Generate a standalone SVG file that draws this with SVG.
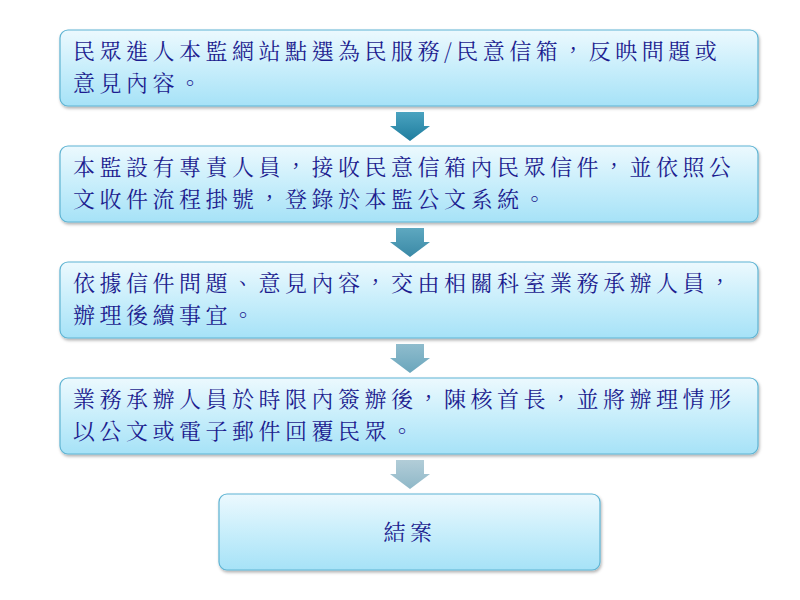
<svg xmlns="http://www.w3.org/2000/svg" width="800" height="600" viewBox="0 0 800 600">
<defs>
<linearGradient id="bg" x1="0" y1="0" x2="0" y2="1"><stop offset="0" stop-color="#ecf9fe"/><stop offset="0.5" stop-color="#c8eefb"/><stop offset="1" stop-color="#a6e2f7"/></linearGradient>
<filter id="sh" x="-5%" y="-10%" width="110%" height="130%"><feDropShadow dx="1" dy="2" stdDeviation="1.5" flood-color="#000" flood-opacity="0.3"/></filter>
<linearGradient id="a1" x1="0" y1="0" x2="0" y2="1"><stop offset="0" stop-color="#4aa3c0"/><stop offset="1" stop-color="#1f7d9e"/></linearGradient>
<linearGradient id="a2" x1="0" y1="0" x2="0" y2="1"><stop offset="0" stop-color="#5ea8c0"/><stop offset="1" stop-color="#3a89a6"/></linearGradient>
<linearGradient id="a3" x1="0" y1="0" x2="0" y2="1"><stop offset="0" stop-color="#8fbccd"/><stop offset="1" stop-color="#6aa6bc"/></linearGradient>
<linearGradient id="a4" x1="0" y1="0" x2="0" y2="1"><stop offset="0" stop-color="#b2cdd8"/><stop offset="1" stop-color="#8fb8c8"/></linearGradient>
</defs>
<style>
.box{fill:url(#bg);stroke:#5fb4d3;stroke-width:1.2;filter:url(#sh)}
.t{font-family:"Noto Serif CJK TC","Noto Sans CJK TC",serif;font-size:22px;fill:#1c1c8f;letter-spacing:4.5px}
</style>
<rect width="800" height="600" fill="#fff"/>
<g id="connectors">
<path d="M396,112h28v14h6l-20,15l-20,-15h6z" fill="url(#a1)"/>
<path d="M396,228h28v14h6l-20,15l-20,-15h6z" fill="url(#a2)"/>
<path d="M396,344h28v14h6l-20,15l-20,-15h6z" fill="url(#a3)"/>
<path d="M396,460h28v14h6l-20,15l-20,-15h6z" fill="url(#a4)"/>
</g>
<g id="n1"><rect class="box" x="60" y="30" width="698" height="76" rx="8"/>
<text class="t" x="73" y="59">民眾進人本監網站點選為民服務/民意信箱，反映問題或</text>
<text class="t" x="73" y="91">意見內容。</text></g>
<g id="n2"><rect class="box" x="60" y="146" width="698" height="76" rx="8"/>
<text class="t" x="73" y="175">本監設有專責人員，接收民意信箱內民眾信件，並依照公</text>
<text class="t" x="73" y="207">文收件流程掛號，登錄於本監公文系統。</text></g>
<g id="n3"><rect class="box" x="60" y="262" width="698" height="76" rx="8"/>
<text class="t" x="73" y="291">依據信件問題、意見內容，交由相關科室業務承辦人員，</text>
<text class="t" x="73" y="323">辦理後續事宜。</text></g>
<g id="n4"><rect class="box" x="60" y="378" width="698" height="76" rx="8"/>
<text class="t" x="73" y="407">業務承辦人員於時限內簽辦後，陳核首長，並將辦理情形</text>
<text class="t" x="73" y="439">以公文或電子郵件回覆民眾。</text></g>
<g id="n5"><rect class="box" x="219" y="494" width="381" height="76" rx="8"/>
<text class="t" x="410" y="540" text-anchor="middle">結案</text></g>
</svg>
